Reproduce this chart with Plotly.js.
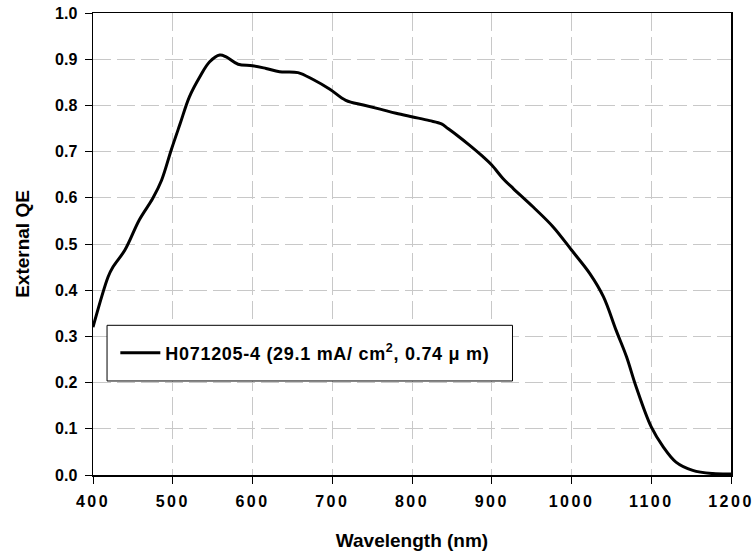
<!DOCTYPE html>
<html>
<head>
<meta charset="utf-8">
<script src="https://cdn.plot.ly/plotly-3.0.1.min.js"></script>
<style>
  html, body { margin: 0; padding: 0; background: #fff; }
  #chart { width: 756px; height: 558px; }
  .xtick text { letter-spacing: 2.5px; }
  .legendtext { letter-spacing: 0.7px; }
</style>
</head>
<body>
<div id="chart"></div>
<script>
// Wavelength (nm)
const wavelength = [400, 419, 425, 440, 458, 475, 486, 498, 509, 521, 534, 546, 559, 567, 582, 600, 617, 634, 657, 676, 697, 717, 739, 760, 780, 801, 822, 837, 845, 856, 872, 889, 900, 914, 927, 952, 977, 1000, 1023, 1040, 1056, 1069, 1081, 1100, 1115, 1131, 1152, 1177, 1200];
// External QE
const externalQE = [0.32, 0.429, 0.45, 0.487, 0.552, 0.599, 0.638, 0.703, 0.759, 0.819, 0.862, 0.894, 0.909, 0.905, 0.889, 0.886, 0.880, 0.873, 0.871, 0.856, 0.835, 0.811, 0.801, 0.792, 0.783, 0.775, 0.767, 0.760, 0.750, 0.736, 0.714, 0.689, 0.671, 0.642, 0.620, 0.580, 0.537, 0.487, 0.436, 0.386, 0.313, 0.256, 0.191, 0.104, 0.061, 0.028, 0.010, 0.003, 0.002];

const seriesName = 'H071205-4 (29.1 mA/ cm<sup>2</sup>, 0.74 \u03bc m)';
const xTicks = [400, 500, 600, 700, 800, 900, 1000, 1100, 1200];
const yTicks = [0.0, 0.1, 0.2, 0.3, 0.4, 0.5, 0.6, 0.7, 0.8, 0.9, 1.0];

const fontFamily = '"Liberation Sans", Arial, sans-serif';

const trace = {
  x: wavelength,
  y: externalQE,
  type: 'scatter',
  mode: 'lines',
  name: seriesName,
  line: { color: '#000000', width: 3, shape: 'spline', smoothing: 1.0 }
};

const layout = {
  width: 756,
  height: 558,
  margin: { l: 93, r: 25, t: 13, b: 83 },
  paper_bgcolor: '#ffffff',
  plot_bgcolor: '#ffffff',
  font: { family: fontFamily, color: '#000000' },
  showlegend: true,
  legend: {
    x: 0.035, y: 0.2638, xanchor: 'left', yanchor: 'middle',
    bgcolor: 'rgba(0,0,0,0)',
    borderwidth: 0,
    font: { family: fontFamily, size: 18, color: '#000000', weight: 'bold' },
    itemwidth: 40
  },
  shapes: [{
    type: 'rect', xref: 'paper', yref: 'paper', layer: 'above',
    x0: 0.022, x1: 0.6575, y0: 0.2035, y1: 0.324,
    line: { color: '#000000', width: 1 },
    fillcolor: '#ffffff'
  }],
  xaxis: {
    range: [400, 1200],
    tickvals: xTicks,
    ticktext: xTicks.map(String),
    showline: true, linecolor: '#000000', linewidth: 1.5, mirror: true,
    ticks: 'outside', ticklen: 7, tickcolor: '#000000', tickwidth: 1,
    ticklabelstandoff: 4,
    tickfont: { family: fontFamily, size: 16, color: '#000000', weight: 'bold' },
    showgrid: true, gridcolor: '#c8c8c8', gridwidth: 1, griddash: '18px,6px',
    zeroline: false,
    title: { text: 'Wavelength (nm)', font: { family: fontFamily, size: 19, color: '#000000', weight: 'bold' }, standoff: 25 }
  },
  yaxis: {
    range: [0, 1.0],
    tickvals: yTicks,
    ticktext: yTicks.map(v => v.toFixed(1)),
    showline: true, linecolor: '#000000', linewidth: 1.5, mirror: true,
    ticks: 'outside', ticklen: 7, tickcolor: '#000000', tickwidth: 1,
    ticklabelstandoff: 4,
    tickfont: { family: fontFamily, size: 16, color: '#000000', weight: 'bold' },
    showgrid: true, gridcolor: '#c8c8c8', gridwidth: 1, griddash: '18px,6px',
    zeroline: false,
    title: { text: 'External QE', font: { family: fontFamily, size: 19, color: '#000000', weight: 'bold' }, standoff: 20 }
  }
};

Plotly.newPlot('chart', [trace], layout, { displayModeBar: false, staticPlot: true });
</script>
</body>
</html>
